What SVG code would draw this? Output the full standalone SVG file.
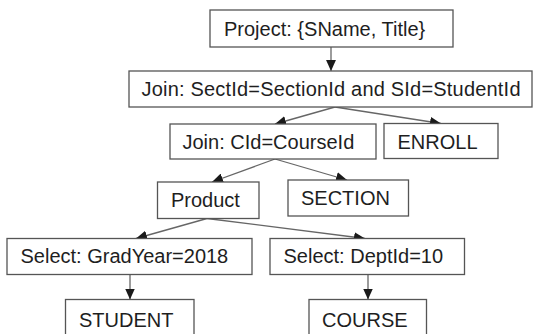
<svg xmlns="http://www.w3.org/2000/svg" width="534" height="334" viewBox="0 0 534 334">
<style>
.box{fill:#fff;stroke:#555;stroke-width:1.3}
.lbl{font-family:"Liberation Sans",Arial,sans-serif;font-size:20px;fill:#1e1e1e}
.edge{stroke:#666;stroke-width:1.3;fill:none;marker-end:url(#ah)}
</style>
<defs>
<marker id="ah" markerUnits="userSpaceOnUse" markerWidth="11" markerHeight="10" refX="10" refY="4.5" orient="auto" viewBox="0 0 10 9">
<path d="M0,0 L10,4.5 L0,9 z" fill="#1a1a1a"/>
</marker>
</defs>
<rect width="534" height="334" fill="#fff"/>
<g id="connectors">
<line class="edge" x1="331" y1="47" x2="331" y2="71"/>
<line class="edge" x1="335" y1="107" x2="275" y2="124"/>
<line class="edge" x1="335" y1="107" x2="441" y2="123.5"/>
<line class="edge" x1="275" y1="159" x2="212" y2="182"/>
<line class="edge" x1="275" y1="159" x2="347" y2="180"/>
<line class="edge" x1="207" y1="218.5" x2="136" y2="238.5"/>
<line class="edge" x1="207" y1="218.5" x2="365" y2="238.5"/>
<line class="edge" x1="130" y1="274.5" x2="130" y2="299.5"/>
<line class="edge" x1="368" y1="274.5" x2="368" y2="299.5"/>
</g>
<g id="project">
<rect class="box" x="210" y="10" width="243" height="37"/>
<text class="lbl" x="224" y="36">Project: {SName, Title}</text>
</g>
<g id="join1">
<rect class="box" x="129" y="71" width="403" height="36"/>
<text class="lbl" x="141.5" y="96" textLength="379" lengthAdjust="spacing">Join: SectId=SectionId and SId=StudentId</text>
</g>
<g id="join2">
<rect class="box" x="170" y="124" width="206" height="35"/>
<text class="lbl" x="182.5" y="149">Join: CId=CourseId</text>
</g>
<g id="enroll">
<rect class="box" x="384" y="123.5" width="114" height="35"/>
<text class="lbl" x="397.5" y="148.5">ENROLL</text>
</g>
<g id="product">
<rect class="box" x="157.5" y="182" width="101.5" height="36.5"/>
<text class="lbl" x="171" y="207">Product</text>
</g>
<g id="section">
<rect class="box" x="288" y="180" width="120.5" height="36"/>
<text class="lbl" x="301" y="205">SECTION</text>
</g>
<g id="selectGrad">
<rect class="box" x="7" y="238.5" width="245" height="36"/>
<text class="lbl" x="20.5" y="263">Select: GradYear=2018</text>
</g>
<g id="selectDept">
<rect class="box" x="270" y="238.5" width="194.5" height="36"/>
<text class="lbl" x="283.5" y="263">Select: DeptId=10</text>
</g>
<g id="student">
<rect class="box" x="65.5" y="299.5" width="128.5" height="50"/>
<text class="lbl" x="79" y="327">STUDENT</text>
</g>
<g id="course">
<rect class="box" x="309" y="299.5" width="117.5" height="50"/>
<text class="lbl" x="322" y="327">COURSE</text>
</g>
</svg>
